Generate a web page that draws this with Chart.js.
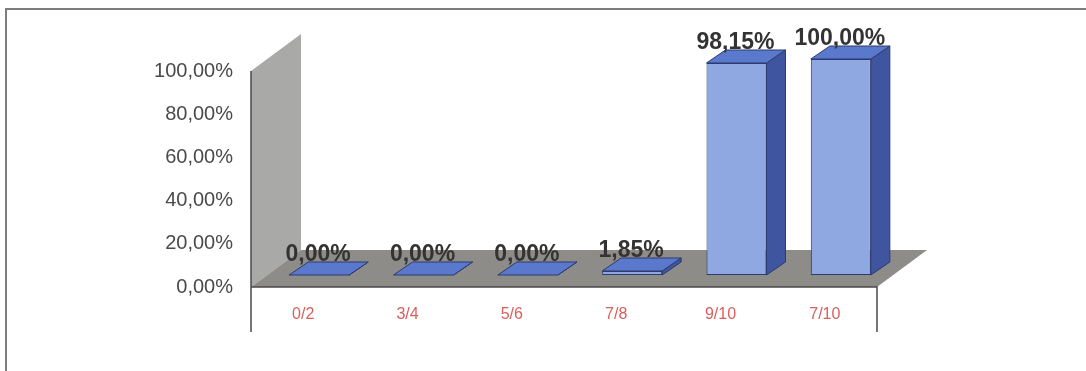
<!DOCTYPE html>
<html>
<head>
<meta charset="utf-8">
<style>
  html, body { margin: 0; padding: 0; background: #fff; overflow: hidden; }
  canvas { display: block; filter: blur(0.4px); } /* the reference is a soft scan */
</style>
<script src="https://cdn.jsdelivr.net/npm/chart.js@4"></script>
</head>
<body>
<canvas id="chart" width="1086" height="371"></canvas>
<script>
const CATEGORIES = ['0/2', '3/4', '5/6', '7/8', '9/10', '7/10'];
const VALUES = [0, 0, 0, 1.85, 98.15, 100];
const Y_TICKS = [0, 20, 40, 60, 80, 100];

const COLORS = {
  front: '#8fa8e2', side: '#40559f', top: '#5a78cc', outline: '#2d3b6e',
  wall: '#a9a9a8', floor: '#8e8c89', axis: '#4a4a4a',
  text: '#4a4a4a', label: '#333333', category: '#d8605c', frame: '#7d7d7d',
};
const FONT = "'Liberation Sans', Arial, sans-serif";

const pct = v => v.toFixed(2).replace('.', ',') + '%';

// 3D look: wall depth, bar offset inside the floor, bar depth (pixels)
const WALL = { dx: 50, dy: -37 };
const BAR_SHIFT = { dx: 16, dy: -12 };
const BAR_DEPTH = { dx: 19, dy: -13 };

function poly(ctx, pts, fill, stroke) {
  ctx.beginPath();
  pts.forEach((p, i) => (i ? ctx.lineTo(p[0], p[1]) : ctx.moveTo(p[0], p[1])));
  ctx.closePath();
  ctx.fillStyle = fill;
  ctx.fill();
  if (stroke) {
    ctx.strokeStyle = stroke;
    ctx.lineWidth = 1;
    ctx.stroke();
  }
}

const scene3d = {
  id: 'scene3d',
  beforeDraw(chart) {
    const { ctx, chartArea: a } = chart;
    ctx.save();
    ctx.fillStyle = '#fff';
    ctx.fillRect(0, 0, chart.width, chart.height);

    // scanned frame: only top and left edges survive
    ctx.strokeStyle = COLORS.frame;
    ctx.lineWidth = 2;
    ctx.beginPath();
    ctx.moveTo(6, chart.height);
    ctx.lineTo(6, 9);
    ctx.lineTo(chart.width, 9);
    ctx.stroke();

    // back wall
    poly(ctx, [
      [a.left, a.top], [a.left + WALL.dx, a.top + WALL.dy],
      [a.left + WALL.dx, a.bottom + WALL.dy], [a.left, a.bottom],
    ], COLORS.wall);

    // floor
    poly(ctx, [
      [a.left, a.bottom], [a.left + WALL.dx, a.bottom + WALL.dy],
      [a.right + WALL.dx, a.bottom + WALL.dy], [a.right, a.bottom],
    ], COLORS.floor);

    // axis lines and the two drop lines below the floor
    ctx.strokeStyle = COLORS.axis;
    ctx.lineWidth = 1.5;
    ctx.beginPath();
    ctx.moveTo(a.left, a.top);
    ctx.lineTo(a.left, a.bottom + 45);
    ctx.moveTo(a.left, a.bottom);
    ctx.lineTo(a.right, a.bottom);
    ctx.lineTo(a.right, a.bottom + 45);
    ctx.stroke();
    ctx.restore();
  },
  beforeDatasetDraw(chart) {
    chart.ctx.save();
    chart.ctx.translate(BAR_SHIFT.dx, BAR_SHIFT.dy);
  },
  afterDatasetDraw(chart, args) {
    const ctx = chart.ctx;
    const d = BAR_DEPTH;
    args.meta.data.forEach(bar => {
      const l = bar.x - bar.width / 2;
      const r = bar.x + bar.width / 2;
      poly(ctx, [[r, bar.y], [r + d.dx, bar.y + d.dy], [r + d.dx, bar.base + d.dy], [r, bar.base]], COLORS.side, COLORS.outline);
      poly(ctx, [[l, bar.y], [l + d.dx, bar.y + d.dy], [r + d.dx, bar.y + d.dy], [r, bar.y]], COLORS.top, COLORS.outline);
    });
    ctx.restore();

    // value labels sit over the bars
    ctx.save();
    ctx.font = 'bold 23px ' + FONT;
    ctx.fillStyle = COLORS.label;
    ctx.textAlign = 'center';
    ctx.textBaseline = 'middle';
    args.meta.data.forEach((bar, i) => {
      ctx.fillText(pct(VALUES[i]), bar.x + BAR_SHIFT.dx - 1, bar.y + BAR_SHIFT.dy - 20);
    });
    ctx.restore();
  },
};

new Chart(document.getElementById('chart'), {
  type: 'bar',
  plugins: [scene3d],
  data: {
    labels: CATEGORIES,
    datasets: [{
      data: VALUES,
      backgroundColor: COLORS.front,
      borderColor: COLORS.outline,
      borderWidth: 1,
      borderSkipped: false,
      barPercentage: 0.575,
      categoryPercentage: 1,
      clip: false,
    }],
  },
  options: {
    responsive: false,
    animation: false,
    layout: { padding: { left: 0, top: 71, right: 209, bottom: 0 } },
    plugins: { legend: { display: false }, tooltip: { enabled: false } },
    scales: {
      x: {
        grid: { display: false },
        border: { display: false },
        ticks: {
          color: COLORS.category,
          font: { family: FONT, size: 16 },
          padding: 10,
          maxRotation: 0,
        },
        afterFit: s => { s.height = 84; s.paddingLeft = 0; s.paddingRight = 0; },
      },
      y: {
        min: 0,
        max: 100,
        afterBuildTicks: s => { s.ticks = Y_TICKS.map(value => ({ value })); },
        grid: { display: false },
        border: { display: false },
        ticks: {
          color: COLORS.text,
          font: { family: FONT, size: 20 },
          padding: 10,
          callback: v => pct(v),
        },
        afterFit: s => { s.width = 251; s.paddingTop = 0; s.paddingBottom = 0; },
      },
    },
  },
});
</script>
</body>
</html>
